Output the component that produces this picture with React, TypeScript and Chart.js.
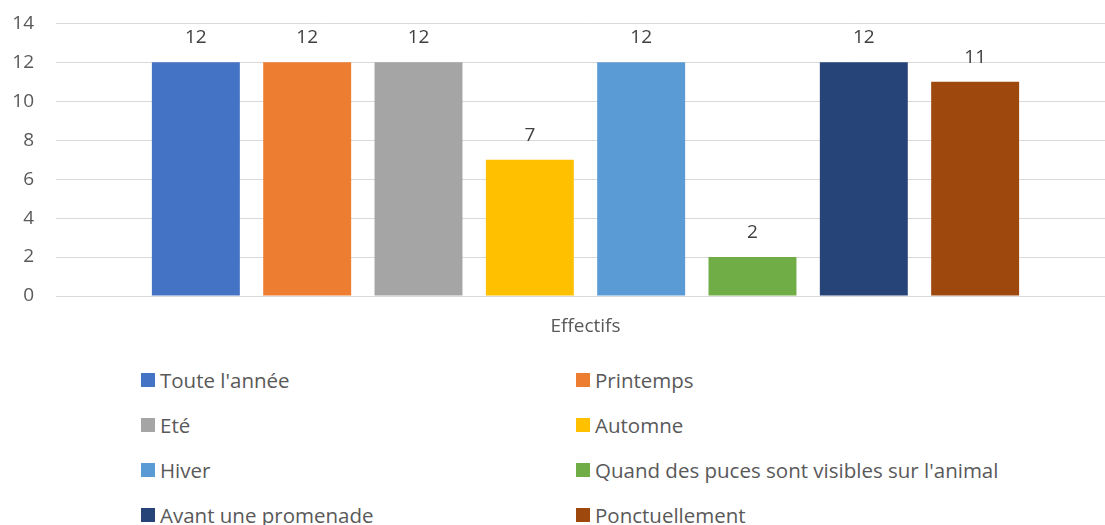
import React, { useEffect, useRef } from "react";
import { Chart, registerables } from "chart.js";

Chart.register(...registerables);

const categories = ["Effectifs"];
const seriesNames = [
  "Toute l'année",
  "Printemps",
  "Eté",
  "Automne",
  "Hiver",
  "Quand des puces sont visibles sur l'animal",
  "Avant une promenade",
  "Ponctuellement",
];
const seriesValues = [12, 12, 12, 7, 12, 2, 12, 11];
const seriesColors = ["#4472C4", "#ED7D31", "#A5A5A5", "#FFC000", "#5B9BD5", "#70AD47", "#264478", "#9E480E"];
const yTicks = [0, 2, 4, 6, 8, 10, 12, 14];

const FONT = "'Open Sans', 'Liberation Sans', sans-serif";

const labelPlugin = {
  id: "valueLabels",
  afterDatasetsDraw(chart: any) {
    const ctx = chart.ctx;
    ctx.save();
    ctx.font = `19px ${FONT}`;
    ctx.fillStyle = "#404040";
    ctx.textAlign = "center";
    ctx.textBaseline = "alphabetic";
    chart.data.datasets.forEach((ds: any, i: number) => {
      const meta = chart.getDatasetMeta(i);
      meta.data.forEach((bar: any, j: number) => {
        ctx.fillText(String(ds.data[j]), bar.x, bar.y - 19);
      });
    });
    ctx.restore();
  },
};

export default function App() {
  const ref = useRef<HTMLCanvasElement>(null);
  useEffect(() => {
    const chart = new Chart(ref.current!, {
      type: "bar",
      data: {
        labels: categories,
        datasets: seriesNames.map((name, i) => ({
          label: name,
          data: [seriesValues[i]],
          backgroundColor: seriesColors[i],
          categoryPercentage: 0.841,
          barPercentage: 0.79,
        })),
      },
      options: {
        animation: false,
        responsive: false,
        maintainAspectRatio: false,
        layout: { padding: { left: 0, right: 0, top: 5, bottom: 0 } },
        plugins: { legend: { display: false }, tooltip: { enabled: false } },
        scales: {
          x: {
            grid: { display: false, drawTicks: false },
            border: { display: false },
            ticks: { color: "#595959", font: { family: FONT, size: 19 }, padding: 19 },
            afterFit: (s: any) => { s.height = 49; },
          },
          y: {
            min: 0,
            max: 14,
            afterBuildTicks: (s: any) => { s.ticks = yTicks.map((v) => ({ value: v })); },
            grid: { color: "#D9D9D9", lineWidth: 1, drawTicks: false },
            border: { display: false },
            ticks: { color: "#595959", font: { family: FONT, size: 19 }, padding: 22 },
            afterFit: (s: any) => { s.width = 56; },
          },
        },
      },
      plugins: [labelPlugin],
    });
    return () => chart.destroy();
  }, []);

  return (
    <div style={{ position: "fixed", left: 0, top: 0, width: 1105, height: 525, background: "#fff", overflow: "hidden" }}>
      <canvas ref={ref} width={1115} height={355} style={{ display: "block", position: "absolute", left: 0, top: -10 }} />
      {seriesNames.map((name, i) => {
        const col = i % 2;
        const row = Math.floor(i / 2);
        return (
          <div
            key={name}
            style={{
              position: "absolute",
              left: col === 0 ? 141 : 576,
              top: 380 + row * 45 - 14,
              height: 28,
              display: "flex",
              alignItems: "center",
              fontFamily: FONT,
              fontSize: 20.5,
              color: "#595959",
              whiteSpace: "nowrap",
            }}
          >
            <span style={{ width: 14, height: 14, background: seriesColors[i], marginRight: 5, display: "inline-block", flexShrink: 0 }} />
            <span>{name}</span>
          </div>
        );
      })}
    </div>
  );
}
